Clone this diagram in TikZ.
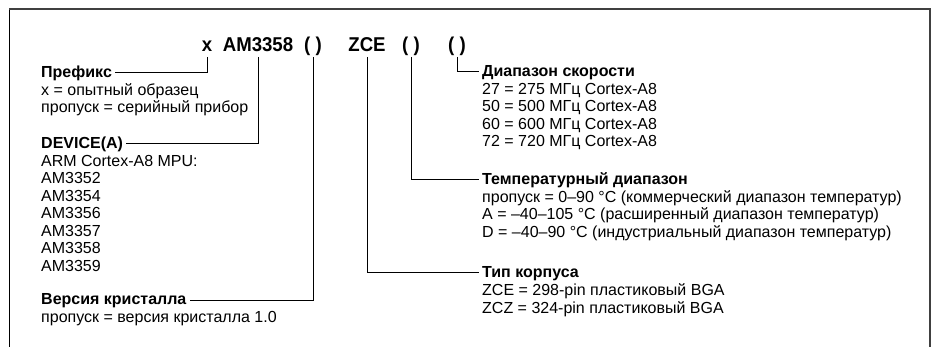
\documentclass[tikz,border=0pt]{standalone}
\usepackage{fontspec}
\setmainfont{Liberation Sans}
\newfontfamily\ttlfont{Liberation Sans}[FakeStretch=0.93]
\begin{document}
\begin{tikzpicture}[x=1pt,y=-1pt,
  txt/.style={anchor=base west,inner sep=0pt,font=\fontsize{16}{17.5}\selectfont},
  hd/.style={anchor=base west,inner sep=0pt,font=\fontsize{16}{17.5}\selectfont\bfseries},
  ttl/.style={anchor=base,inner sep=0pt,font=\ttlfont\fontsize{20}{22}\selectfont\bfseries},
  ln/.style={line width=1pt,black}]
\useasboundingbox (0,0) rectangle (934,347);
\draw[line width=1pt,black] (9.5,347) -- (9.5,9);
\draw[line width=1.6pt,black!75] (9,9) -- (930,9) -- (930,347);
% title
\node[ttl] (tx) at (207,52) {x};
\node[ttl] (tam) at (258,52) {AM3358};
\node[ttl] (tp1) at (313,52) {( )};
\node[ttl] (tzce) at (367,52) {ZCE};
\node[ttl] (tp2) at (411,52) {( )};
\node[ttl] (tp3) at (457,52) {( )};
% left column
\node[hd] (pref) at (41,78) {Префикс};
\node[txt] (pref1) at (41,95.5) {x = опытный образец};
\node[txt] (pref2) at (41,113) {пропуск = серийный прибор};
\node[hd] (dev) at (41,149) {DEVICE(A)};
\node[txt] (dev1) at (41,166.5) {ARM Cortex-A8 MPU:};
\node[txt] (dev2) at (41,184) {AM3352};
\node[txt] (dev3) at (41,201.5) {AM3354};
\node[txt] (dev4) at (41,219) {AM3356};
\node[txt] (dev5) at (41,236.5) {AM3357};
\node[txt] (dev6) at (41,254) {AM3358};
\node[txt] (dev7) at (41,271.5) {AM3359};
\node[hd] (ver) at (41,305) {Версия кристалла};
\node[txt] (ver1) at (41,322.5) {пропуск = версия кристалла 1.0};
% right column
\node[hd] (spd) at (482,77) {Диапазон скорости};
\node[txt] (spd1) at (482,94.5) {27 = 275 МГц Cortex-A8};
\node[txt] (spd2) at (482,112) {50 = 500 МГц Cortex-A8};
\node[txt] (spd3) at (482,129.5) {60 = 600 МГц Cortex-A8};
\node[txt] (spd4) at (482,147) {72 = 720 МГц Cortex-A8};
\node[hd] (tmp) at (482,185) {Температурный диапазон};
\node[txt] (tmp1) at (482,202.5) {пропуск = 0–90 °C (коммерческий диапазон температур)};
\node[txt] (tmp2) at (482,220) {A = –40–105 °C (расширенный диапазон температур)};
\node[txt] (tmp3) at (482,237.5) {D = –40–90 °C (индустриальный диапазон температур)};
\node[hd] (pkg) at (482,278) {Тип корпуса};
\node[txt] (pkg1) at (482,295.5) {ZCE = 298-pin пластиковый BGA};
\node[txt] (pkg2) at (482,313) {ZCZ = 324-pin пластиковый BGA};
% connectors
\draw[ln] ([yshift=-5pt]tx.base) |- ([xshift=3pt,yshift=5pt]pref.base east);
\draw[ln] ([yshift=-5pt]tam.base) |- ([xshift=3pt,yshift=5pt]dev.base east);
\draw[ln] ([yshift=-5pt]tp1.base) |- ([xshift=3pt,yshift=5pt]ver.base east);
\draw[ln] ([yshift=-5pt]tzce.base) |- ([xshift=-3pt,yshift=5pt]pkg.base west);
\draw[ln] ([yshift=-5pt]tp2.base) |- ([xshift=-3pt,yshift=5pt]tmp.base west);
\draw[ln] ([yshift=-5pt]tp3.base) |- ([xshift=-3pt,yshift=5pt]spd.base west);
\end{tikzpicture}
\end{document}
